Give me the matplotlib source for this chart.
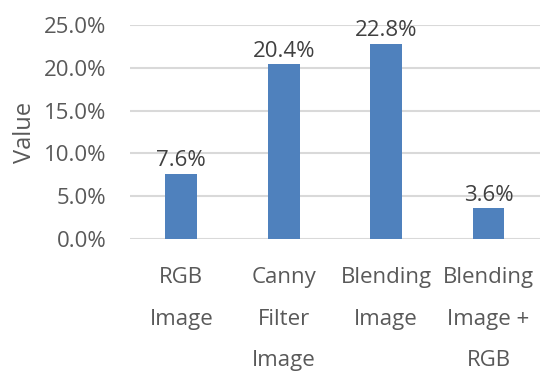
import matplotlib.pyplot as plt
from matplotlib.ticker import PercentFormatter

categories = ["RGB\nImage", "Canny\nFilter\nImage", "Blending\nImage", "Blending\nImage +\nRGB"]
values = [0.076, 0.204, 0.228, 0.036]
yticks = [0.0, 0.05, 0.10, 0.15, 0.20, 0.25]

plt.rcParams["font.family"] = ["Open Sans", "DejaVu Sans"]

fig = plt.figure(figsize=(5.42, 3.72), dpi=100)
ax = fig.add_axes([0.240, 0.3575, 0.756, 0.5755])

x = range(len(categories))
ax.bar(x, values, width=0.31, color="#4f81bd", zorder=3)

for xi, v in zip(x, values):
    ax.text(xi, v + 0.003, f"{v * 100:.1f}%", ha="center", va="bottom",
            fontsize=16, color="#404040")

ax.set_xlim(-0.5, len(categories) - 0.5)
ax.set_ylim(0, 0.25)
ax.set_yticks(yticks)
ax.yaxis.set_major_formatter(PercentFormatter(1.0, decimals=1))
ax.set_xticks(list(x))
ax.set_xticklabels(categories, linespacing=2.3)
ax.tick_params(axis="both", length=0, labelsize=16, labelcolor="#595959")
ax.tick_params(axis="x", pad=20)
ax.tick_params(axis="y", pad=17)
ax.grid(axis="y", color="#d9d9d9", linewidth=1.5, zorder=0)
for s in ax.spines.values():
    s.set_visible(False)
ax.set_ylabel("Value", fontsize=17, color="#595959", labelpad=5)

fig.savefig("out.png", dpi=100)
